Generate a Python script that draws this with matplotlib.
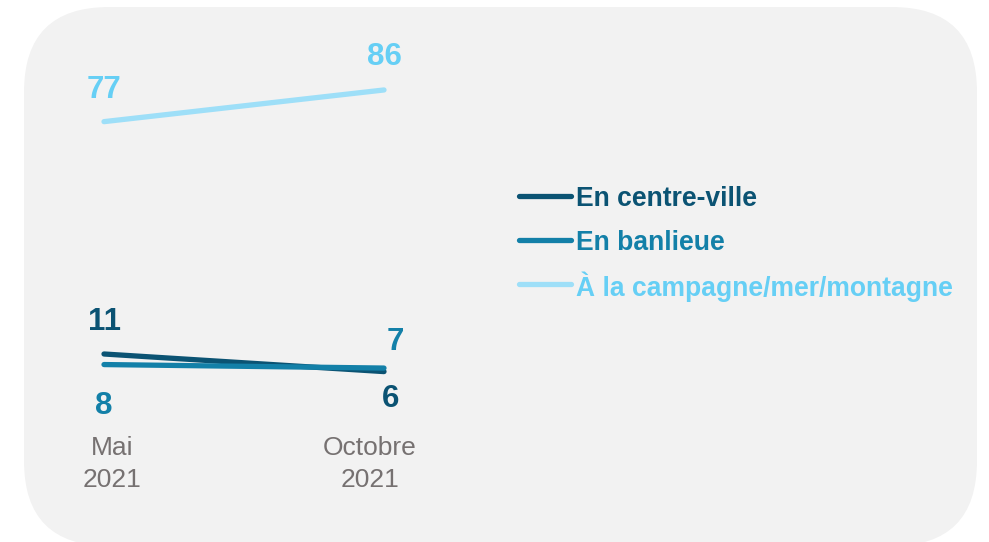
import matplotlib.pyplot as plt
from matplotlib.lines import Line2D
from matplotlib.patches import FancyBboxPatch

periods = ["Mai\n2021", "Octobre\n2021"]
series_names = ["En centre-ville", "En banlieue", "À la campagne/mer/montagne"]
centre_ville = [11, 6]
banlieue = [8, 7]
campagne = [77, 86]

line_colors = ["#0b5373", "#1380a8", "#9edff8"]
text_colors = ["#0b5373", "#1380a8", "#66cff5"]

plt.rcParams["font.family"] = ["Liberation Sans", "DejaVu Sans"]

fig = plt.figure(figsize=(9.89, 5.42), dpi=100)
fig.patch.set_facecolor("white")

# rounded grey card behind everything (inches)
card = FancyBboxPatch(
    (0.24, -0.04), 9.53, 5.39,
    boxstyle="round,pad=0,rounding_size=0.85",
    transform=fig.dpi_scale_trans,
    facecolor="#f2f2f2", edgecolor="none", zorder=-5,
)
fig.patches.append(card)

# axes placed so x=0 -> 104px, x=1 -> 384px
W, H = 989, 542
ax = fig.add_axes([104 / W, (H - 424.4) / H, 280 / W, 345 / H])
ax.set_zorder(2)
ax.set_xlim(0, 1)
ax.set_ylim(-9, 89)
ax.axis("off")
ax.patch.set_alpha(0)

x = [0, 1]
values = [centre_ville, banlieue, campagne]
for vals, name, lc in zip(values, series_names, line_colors):
    ax.plot(x, vals, color=lc, linewidth=3.8, solid_capstyle="round",
            label=name, clip_on=False)

# value labels: (series index, point index, offset in points)
label_offsets = [
    (0, 0, (0, 23)), (0, 1, (5, -20)),
    (1, 0, (0, -30)), (1, 1, (8, 19)),
    (2, 0, (0, 23)), (2, 1, (0, 24)),
]
for si, pi, off in label_offsets:
    ax.annotate(str(values[si][pi]), (x[pi], values[si][pi]),
                xytext=off, textcoords="offset points",
                ha="center", va="center", fontsize=22.5, fontweight="bold",
                color=text_colors[si], annotation_clip=False)

# period labels under the lines
period_shift = [6, -10]
for xi, lab, dx in zip(x, periods, period_shift):
    ax.annotate(lab, (xi, 0), xycoords=("data", "axes fraction"),
                xytext=(dx, -8.5), textcoords="offset points",
                ha="center", va="top", fontsize=19, color="#767171",
                linespacing=1.42, annotation_clip=False)

# legend, drawn as evenly spaced rows (figure pixels)
leg_x0, leg_x1, leg_y0, leg_step = 519, 571, 196, 44
for i, (name, lc, tc) in enumerate(zip(series_names, line_colors, text_colors)):
    yy = (H - (leg_y0 + i * leg_step)) / H
    fig.add_artist(Line2D([leg_x0 / W, leg_x1 / W], [yy, yy], color=lc,
                          linewidth=3.8, solid_capstyle="round", zorder=3))
    fig.text((leg_x1 + 5) / W, yy, name, color=tc, fontsize=19.1,
             fontweight="bold", ha="left", va="center_baseline", zorder=3)

fig.savefig("out.png", dpi=100, facecolor="white")
